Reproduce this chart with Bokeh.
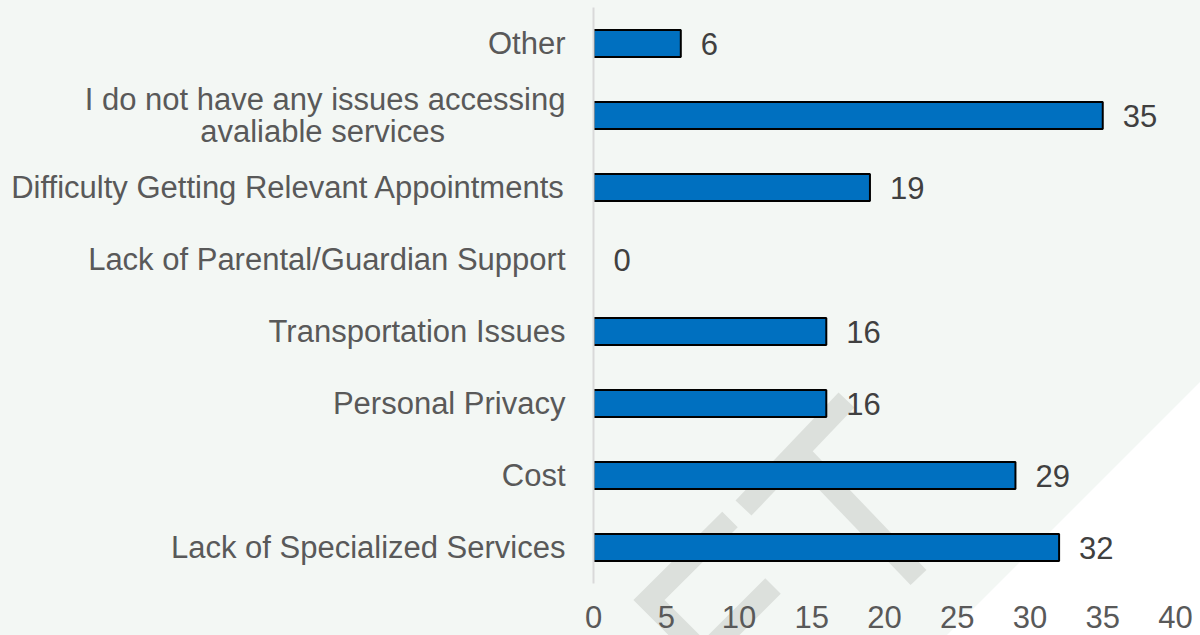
from bokeh.plotting import figure
from bokeh.models import FactorRange, Range1d, ColumnDataSource
from bokeh.core.properties import value
from bokeh.embed import file_html
from bokeh.resources import INLINE
from urllib.parse import quote

# ---- data ----
categories = [
    "Other",
    "I do not have any issues accessing\navaliable services" + "\u00a0" * 14,
    "Difficulty Getting Relevant Appointments",
    "Lack of Parental/Guardian Support",
    "Transportation Issues",
    "Personal Privacy",
    "Cost",
    "Lack of Specialized Services",
]
counts = [6, 35, 19, 0, 16, 16, 29, 32]
x_ticks = [0, 5, 10, 15, 20, 25, 30, 35, 40]

FONT = "Liberation Sans"
FS = "31px"
BG = "#F3F7F4"
WM = "#DCE0DC"
W, H = 1200, 635

# ---- decorative page background (CSS image, pixels of the canvas) ----
strokes = [
    [(846.5, 400), (743.5, 508)],
    [(804.5, 458.5), (918.5, 577.5)],
    [(730, 519.5), (649, 600), (702, 653)],
    [(773, 586), (714, 645)],
]
deco = [f"<rect width='{W}' height='{H}' fill='{BG}'/>",
        "<polygon points='947,635 1200,382 1200,635' fill='#FFFFFF'/>"]
for pts in strokes:
    pts_s = " ".join(f"{a},{b}" for a, b in pts)
    deco.append(f"<polyline points='{pts_s}' fill='none' stroke='{WM}' "
                f"stroke-width='22' stroke-linecap='butt' stroke-linejoin='miter'/>")
svg = (f"<svg xmlns='http://www.w3.org/2000/svg' width='{W}' height='{H}' "
       f"viewBox='0 0 {W} {H}'>" + "".join(deco) + "</svg>")

p = figure(
    width=W, height=H,
    y_range=FactorRange(*list(reversed(categories)), range_padding=0),
    x_range=Range1d(0, 40),
    output_backend="svg", toolbar_location=None,
    min_border_left=593, min_border_right=25, min_border_top=7, min_border_bottom=52,
)
p.styles = {
    "background-color": BG,
    "background-image": f'url("data:image/svg+xml,{quote(svg)}")',
    "background-size": f"{W}px {H}px",
    "background-repeat": "no-repeat",
}
p.background_fill_color = None
p.border_fill_color = None
p.outline_line_color = None

src = ColumnDataSource(dict(
    cat=categories, val=counts, lab=[str(v) for v in counts],
    lc=["black" if v > 0 else None for v in counts],
))

p.hbar(y="cat", right="val", left=0, height=0.375, source=src,
       fill_color="#0070C0", line_color="lc", line_width=2)

p.text(x="val", y="cat", text="lab", source=src, x_offset=20,
       text_baseline="middle", text_align="left",
       text_font=value(FONT), text_font_size=FS, text_color="#404040")

# axes
p.xgrid.visible = False
p.ygrid.visible = False
p.xaxis.ticker = x_ticks
p.xaxis.axis_line_color = None
p.xaxis.major_tick_line_color = None
p.xaxis.minor_tick_line_color = None
p.xaxis.major_label_text_font = FONT
p.xaxis.major_label_text_font_size = FS
p.xaxis.major_label_text_color = "#595959"
p.xaxis.major_label_standoff = 16

p.yaxis.axis_line_color = "#D9D9D9"
p.yaxis.axis_line_width = 2
p.yaxis.major_tick_line_color = None
p.yaxis.minor_tick_line_color = None
p.yaxis.major_label_text_font = FONT
p.yaxis.major_label_text_font_size = FS
p.yaxis.major_label_text_color = "#595959"
p.yaxis.major_label_text_line_height = 0.94
p.yaxis.major_label_standoff = 22

open("out.html", "w").write(file_html(p, INLINE))
